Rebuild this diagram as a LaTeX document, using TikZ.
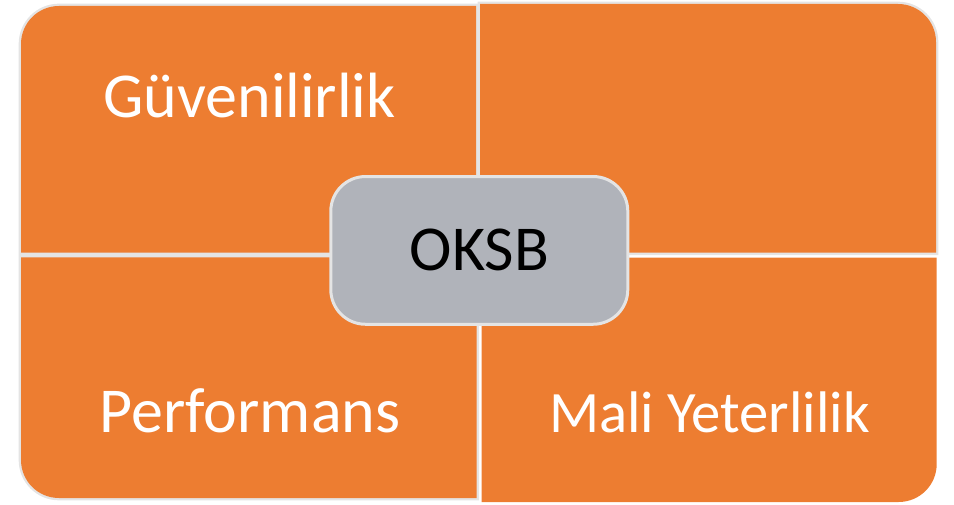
\documentclass[tikz,border=0pt]{standalone}
\usepackage{fontspec}
\setmainfont{Carlito}
\usepackage{tikz}
\definecolor{quadorange}{HTML}{ED7D31}
\definecolor{boxgray}{HTML}{B0B3BA}
\definecolor{rimgray}{HTML}{E4E4E4}

\begin{document}
\begin{tikzpicture}[x=0.75pt,y=0.75pt,
    quad/.style={fill=quadorange, preaction={draw=rimgray, line width=3.5pt}},
    quadplain/.style={fill=quadorange},
    quadlabel/.style={text=white, anchor=base, inner sep=0pt, font=\fontsize{48}{58}\selectfont},
    centerbox/.style={draw=rimgray, line width=2.25pt, fill=boxgray, rounded corners=26pt,
      minimum width=222.75pt, minimum height=110.8pt, font=\fontsize{48}{58}\selectfont}]
  \useasboundingbox (0,0) rectangle (954,504);
  % four quadrants, each rounded on its outer corner
  \path[quad] (21,251.3) -- (21,460) arc[start angle=180, end angle=90, radius=38]
    -- (476,498) -- (476,251.3) -- cycle;
  \path[quad] (480,251.3) -- (480,500) -- (898,500) arc[start angle=90, end angle=0, radius=38]
    -- (936,251.3) -- cycle;
  \path[quad] (21,246.7) -- (21,44) arc[start angle=180, end angle=270, radius=38]
    -- (476.7,6) -- (476.7,246.7) -- cycle;
  \path[quadplain] (481.7,246.3) -- (936.7,246.3) -- (936.7,40) arc[start angle=0, end angle=-90, radius=38]
    -- (481.7,2) -- cycle;
  % labels
  \node[quadlabel] (guven) at (249.5,386) {Güvenilirlik};
  \node[quadlabel] (perf) at (250,72) {Performans};
  \node[quadlabel, font=\fontsize{44}{52}\selectfont] (mali) at (709.5,72) {Mali Yeterlilik};
  \node[centerbox] (oksb) at (479.3,253.6) {OKSB};
\end{tikzpicture}
\end{document}
